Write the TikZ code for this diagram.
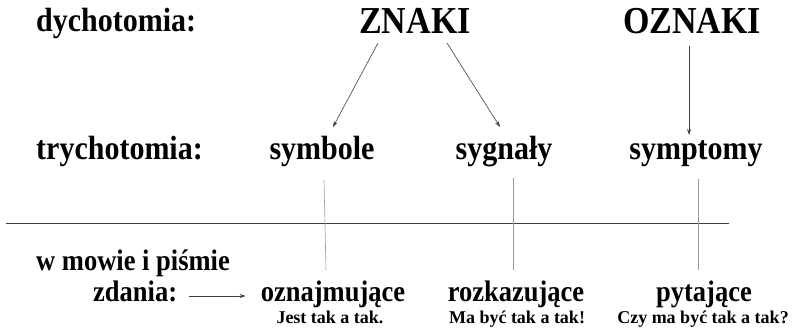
\documentclass[tikz,border=0pt]{standalone}
\usepackage{fontspec}
\usepackage{graphicx}
\setmainfont{Liberation Serif}
\usetikzlibrary{arrows.meta}
% slightly condensed-looking tall lettering
\newcommand{\tall}[1]{\scalebox{1}[1.12]{#1}}
\begin{document}
\begin{tikzpicture}[x=1pt,y=1pt,
  lbl/.style={inner sep=0pt,font=\bfseries\fontsize{30}{36}\selectfont},
  head/.style={inner sep=0pt,font=\bfseries\fontsize{34}{40}\selectfont},
  kind/.style={inner sep=0pt,font=\bfseries\fontsize{26.5}{32}\selectfont},
  note/.style={inner sep=0pt,font=\bfseries\fontsize{18}{22}\selectfont},
  arr/.style={draw=black!75,line width=0.6pt,-{Stealth[length=6pt,width=4pt]}},
  divider/.style={draw=black!40,line width=0.6pt},
  rule/.style={draw=black!75,line width=0.8pt}]
\useasboundingbox (0,0) rectangle (797,-331);

% row labels
\node[lbl,anchor=base west] (dych) at (36,-32) {\tall{dychotomia:}};
\node[lbl,anchor=base west] (trych) at (36,-160) {\tall{trychotomia:}};
\node[kind,anchor=base west] (mowa) at (36,-270) {\tall{w mowie i piśmie}};
\node[kind,anchor=base west] (zdania) at (93,-301) {\tall{zdania:}};

% dichotomy
\node[head,anchor=base] (znaki) at (415,-34) {\tall{ZNAKI}};
\node[head,anchor=base] (oznaki) at (692,-34) {\tall{OZNAKI}};

% trichotomy
\node[lbl,anchor=base] (symbole) at (322,-160) {\tall{symbole}};
\node[lbl,anchor=base] (sygnaly) at (504,-160) {\tall{sygnały}};
\node[lbl,anchor=base] (symptomy) at (696,-160) {\tall{symptomy}};

% sentence types
\node[kind,anchor=base] (oznajm) at (333,-301) {\tall{oznajmujące}};
\node[kind,anchor=base] (rozkaz) at (516,-301) {\tall{rozkazujące}};
\node[kind,anchor=base] (pytaj) at (704,-301) {\tall{pytające}};
\node[note,anchor=base] (ex1) at (330,-323) {Jest tak a tak.};
\node[note,anchor=base] (ex2) at (517,-323) {Ma być tak a tak!};
\node[note,anchor=base] (ex3) at (703,-323) {Czy ma być tak a tak?};

% arrows from the dichotomy to the trichotomy
\draw[arr] ([shift={(-37,-9)}]znaki.base) -- ([shift={(11,33)}]symbole.base);
\draw[arr] ([shift={(32,-9)}]znaki.base) -- ([shift={(-4,33)}]sygnaly.base);
\draw[arr] ([shift={(-3,-12)}]oznaki.base) -- ([shift={(-7,25)}]symptomy.base);

% separator between the sign types and the sentence types
\coordinate (ruleL) at (6,-223);
\coordinate (ruleR) at (729,-223);
\draw[rule] (ruleL) -- (ruleR);

% vertical correspondences
\draw[divider] ([shift={(2,-20)}]symbole.base) -- ([shift={(-7,31)}]oznajm.base);
\draw[divider] ([shift={(9,-18)}]sygnaly.base) -- ([shift={(-3,31)}]rozkaz.base);
\draw[divider] ([shift={(2,-19)}]symptomy.base) -- ([shift={(-6,31)}]pytaj.base);

% zdania -> oznajmujące
\draw[arr] ([shift={(12,5)}]zdania.base east) -- ([shift={(-15,5)}]oznajm.base west);
\end{tikzpicture}
\end{document}
